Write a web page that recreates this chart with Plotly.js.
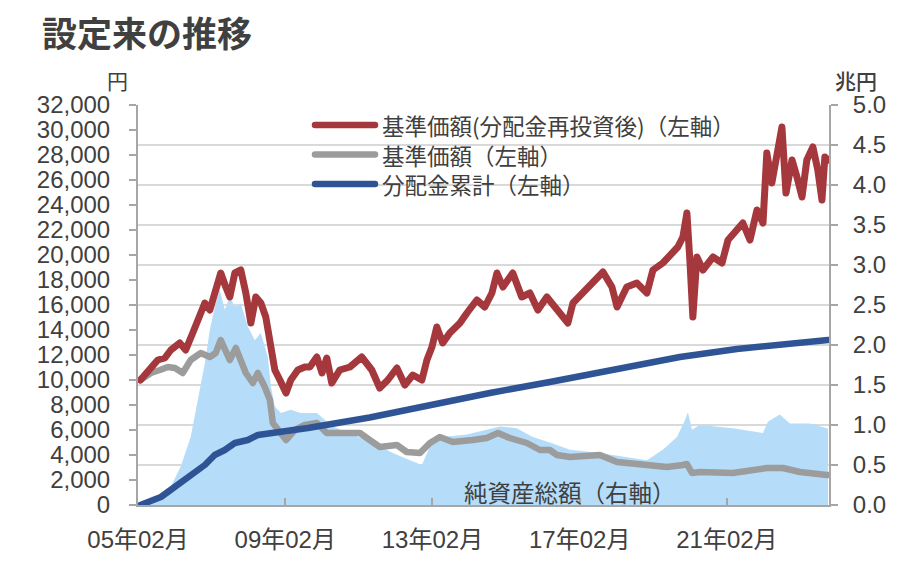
<!DOCTYPE html>
<html>
<head>
<meta charset="utf-8">
<script src="https://cdn.plot.ly/plotly-3.0.1.min.js"></script>
<style>
html,body{margin:0;padding:0;background:#fff;}
#chart{width:915px;height:570px;}
.js-line, .shapelayer path{stroke-linecap:round;stroke-linejoin:round;}
</style>
</head>
<body>
<div id="chart"></div>
<script>
// 基準価額(分配金再投資後) 円
const reinvDates = ["2005-02-25","2005-04-09","2005-08-16","2005-10-25","2005-12-24","2006-03-22","2006-05-20","2006-07-29","2006-10-07","2006-11-26","2007-01-15","2007-03-14","2007-05-03","2007-06-22","2007-08-01","2007-09-20","2007-11-18","2008-01-07","2008-02-26","2008-04-15","2008-06-04","2008-07-23","2008-09-12","2008-10-21","2008-12-10","2009-02-09","2009-03-28","2009-06-06","2009-08-14","2009-10-03","2009-12-12","2010-02-01","2010-03-20","2010-05-09","2010-07-27","2010-11-05","2011-03-02","2011-06-10","2011-08-28","2011-11-16","2012-02-14","2012-05-03","2012-07-21","2012-10-19","2012-12-08","2013-01-27","2013-03-16","2013-05-14","2013-07-23","2013-11-01","2014-01-09","2014-04-17","2014-07-05","2014-09-14","2014-11-03","2015-01-01","2015-04-09","2015-07-07","2015-09-26","2015-12-14","2016-03-12","2016-06-20","2016-08-19","2016-10-07","2016-11-26","2017-03-04","2017-06-12","2017-09-20","2017-12-18","2018-02-07","2018-05-14","2018-08-22","2018-11-30","2019-01-29","2019-05-07","2019-08-14","2019-10-03","2019-11-22","2020-01-01","2020-02-01","2020-02-29","2020-04-09","2020-06-08","2020-09-16","2020-12-14","2021-02-12","2021-04-21","2021-07-09","2021-09-18","2021-11-26","2022-01-25","2022-03-04","2022-04-23","2022-06-12","2022-08-01","2022-09-10","2022-11-09","2022-12-28","2023-02-16","2023-04-05","2023-06-04","2023-07-23","2023-09-02","2023-10-01","2023-11-01"];
const reinvValues = [10000,10400,11600,11760,12400,12960,12400,13760,15360,16160,15600,17440,18560,17440,16640,18560,18800,16960,14560,16640,16160,15040,12640,10800,10000,8960,10000,10800,11040,11040,11840,10560,11760,9760,10800,11040,11840,10800,9360,10000,10960,9600,10400,10000,11600,12640,14240,12960,13760,14560,15360,16400,15840,16960,18560,17440,18560,16640,16960,15600,16640,15600,15040,14560,16160,16960,17760,18640,17440,15840,17440,17760,16960,18800,19360,20160,20640,21440,23360,19360,15040,19840,18800,19840,19360,21200,21760,22560,21200,23600,22560,28160,25760,28400,30240,24960,27600,26240,24640,27600,28640,26800,24400,27840,27600];

// 基準価額 円
const navDates = ["2005-02-25","2005-06-08","2005-09-06","2005-11-24","2006-02-03","2006-04-21","2006-07-09","2006-10-17","2007-01-15","2007-03-14","2007-05-03","2007-06-22","2007-08-01","2007-09-30","2007-11-18","2008-01-07","2008-03-16","2008-05-05","2008-07-13","2008-09-02","2008-10-01","2008-11-20","2009-02-09","2009-05-07","2009-08-14","2009-12-12","2010-03-20","2010-08-26","2011-02-12","2011-05-20","2011-08-28","2012-02-14","2012-05-22","2012-09-30","2013-01-07","2013-04-15","2013-08-22","2014-03-08","2014-07-25","2014-11-13","2015-03-10","2015-08-26","2016-01-04","2016-04-11","2016-06-20","2016-10-27","2017-08-20","2018-02-07","2018-10-21","2019-06-16","2019-11-22","2020-01-01","2020-02-20","2020-05-09","2021-04-01","2022-03-04","2022-08-11","2023-01-27","2023-10-21","2023-11-01"];
const navValues = [10000,10560,10800,11040,10960,10560,11600,12160,11840,12160,13200,12160,11600,12560,11600,10560,9760,10560,9440,8400,6560,6000,5200,6000,6400,6560,5760,5760,5760,5200,4640,4800,4240,4160,4960,5440,5040,5200,5360,5760,5360,4960,4400,4400,4000,3840,4000,3440,3200,3040,3200,3280,2560,2640,2560,2960,2960,2640,2400,2400];

// 分配金累計 円
const distDates = ["2005-02-25","2005-07-17","2005-09-16","2005-11-24","2006-04-01","2006-08-19","2006-11-26","2007-03-04","2007-06-12","2007-09-20","2008-01-27","2008-05-05","2008-09-12","2009-02-28","2009-09-14","2011-05-20","2013-01-07","2014-08-24","2016-04-11","2018-03-06","2019-10-23","2021-05-11","2022-10-19","2023-11-01"];
const distValues = [0,400,640,1040,1760,2560,3200,4000,4400,4960,5200,5600,5760,5840,6160,7000,8000,8960,9840,10960,11840,12480,12960,13200];

// 純資産総額 兆円
const aumDates = ["2005-02-25","2005-08-16","2005-12-24","2006-04-01","2006-07-09","2006-09-18","2006-11-26","2007-01-15","2007-03-14","2007-04-23","2007-06-12","2007-08-01","2007-09-20","2007-11-18","2008-01-27","2008-04-05","2008-06-04","2008-08-12","2008-09-12","2008-10-21","2008-12-20","2009-03-28","2009-07-05","2009-12-12","2010-05-18","2011-04-21","2012-01-05","2012-06-22","2012-10-19","2013-01-07","2013-05-14","2014-01-09","2014-07-25","2014-12-02","2015-05-18","2015-10-25","2016-04-11","2016-10-27","2017-08-20","2018-11-30","2019-05-07","2019-09-24","2019-12-12","2020-01-11","2020-02-21","2020-05-09","2021-04-01","2022-01-25","2022-03-14","2022-07-11","2022-10-19","2023-05-05","2023-10-21","2023-11-01"];
const aumValues = [0.01,0.05,0.23,0.48,0.85,1.31,1.77,2.19,2.52,2.69,2.44,2.60,2.48,2.52,2.23,2.06,2.15,1.85,1.48,1.23,1.15,1.19,1.15,1.15,0.98,0.81,0.65,0.56,0.50,0.73,0.85,0.88,0.94,0.98,0.96,0.85,0.78,0.69,0.65,0.56,0.69,0.85,1.06,1.16,0.94,1.00,0.96,0.90,1.04,1.13,1.02,1.02,0.96,0.95];

// Axis ticks
const xTickVals = ["2005-02-01","2009-02-01","2013-02-01","2017-02-01","2021-02-01"];
const xTickText = ["05年02月","09年02月","13年02月","17年02月","21年02月"];

const labels = {
  title: "設定来の推移",
  reinv: "基準価額(分配金再投資後)（左軸）",
  nav: "基準価額（左軸）",
  dist: "分配金累計（左軸）",
  aum: "純資産総額（右軸）",
  yLeft: "円",
  yRight: "兆円"
};

const colors = {reinv: "#a5383c", nav: "#9c9c9c", dist: "#2f5496", aum: "#b5ddf9"};
const txt = "#404040";
const axisCol = "#a6a6a6";
const fontNum = "Liberation Sans, Arial, Noto Sans CJK JP, sans-serif";
const fontJP = "Noto Sans CJK JP, sans-serif";

const traces = [
  {x: aumDates, y: aumValues, type: "scatter", mode: "lines", fill: "tozeroy",
   fillcolor: colors.aum, line: {width: 0, color: colors.aum}, yaxis: "y", showlegend: false, name: labels.aum},
  {x: navDates, y: navValues, type: "scatter", mode: "lines", name: labels.nav,
   line: {color: colors.nav, width: 6.5}, yaxis: "y2", showlegend: false},
  {x: distDates, y: distValues, type: "scatter", mode: "lines", name: labels.dist,
   line: {color: colors.dist, width: 6.5}, yaxis: "y2", showlegend: false},
  {x: reinvDates, y: reinvValues, type: "scatter", mode: "lines", name: labels.reinv,
   line: {color: colors.reinv, width: 7}, yaxis: "y2", showlegend: false}
];

// legend (drawn as paper-positioned key)
const px = v => (v - 138) / 691;
const py = v => (505 - v) / 400;
const legendItems = [
  {key: "reinv", row: 125},
  {key: "nav", row: 154.5},
  {key: "dist", row: 184}
];
const shapes = legendItems.map(it => ({
  type: "line", xref: "paper", yref: "paper", x0: px(315), x1: px(375), y0: py(it.row), y1: py(it.row),
  line: {color: colors[it.key], width: 6.5}
}));
const legendAnn = legendItems.map(it => ({
  text: labels[it.key], xref: "paper", yref: "paper", x: px(381), y: py(it.row),
  xanchor: "left", yanchor: "middle", showarrow: false, borderpad: 0,
  font: {family: fontJP, size: 22.5, color: txt}
}));

const layout = {
  width: 915, height: 570,
  margin: {l: 138, r: 86, t: 105, b: 65, pad: 0},
  paper_bgcolor: "#ffffff", plot_bgcolor: "#ffffff",
  title: {text: labels.title, x: 42/915, xanchor: "left", xref: "container",
          y: 1 - 35/570, yanchor: "middle", yref: "container",
          font: {family: fontJP, size: 35, color: txt, weight: "bold"}},
  showlegend: false,
  xaxis: {type: "date", range: ["2005-02-01", "2023-11-11"], tickmode: "array",
          tickvals: xTickVals, ticktext: xTickText, ticks: "inside", ticklen: 7,
          tickcolor: axisCol, tickwidth: 2, showline: true, linecolor: axisCol, linewidth: 2,
          showgrid: false, zeroline: false, ticklabelstandoff: 12,
          tickfont: {family: fontNum, size: 24, color: txt}, fixedrange: true},
  yaxis: {range: [0, 5], dtick: 0.5, tick0: 0, tickformat: ".1f", side: "right",
          ticks: "outside", ticklen: 7, tickcolor: axisCol, tickwidth: 2,
          showline: true, linecolor: axisCol, linewidth: 2,
          showgrid: true, gridcolor: "#d9d9d9", gridwidth: 2, zeroline: false,
          ticklabelstandoff: 10,
          tickfont: {family: fontNum, size: 24, color: txt}, fixedrange: true},
  yaxis2: {range: [0, 32000], dtick: 2000, tick0: 0, tickformat: ",d", side: "left",
           overlaying: "y", ticks: "outside", ticklen: 7, tickcolor: axisCol, tickwidth: 2,
           showline: true, linecolor: axisCol, linewidth: 2, showgrid: false, zeroline: false,
           ticklabelstandoff: 14,
           tickfont: {family: fontNum, size: 24, color: txt}, fixedrange: true},
  shapes: shapes,
  annotations: [
    {text: labels.yLeft, xref: "paper", yref: "paper", x: px(117), y: py(80),
     xanchor: "center", yanchor: "middle", showarrow: false,
     font: {family: fontJP, size: 21, color: txt}},
    {text: labels.yRight, xref: "paper", yref: "paper", x: px(856), y: py(80),
     xanchor: "center", yanchor: "middle", showarrow: false,
     font: {family: fontJP, size: 21, color: txt, weight: 500}},
    {text: labels.aum, xref: "paper", yref: "paper", x: px(570), y: py(492),
     xanchor: "center", yanchor: "middle", showarrow: false,
     font: {family: fontJP, size: 23.5, color: txt}}
  ].concat(legendAnn),
  hovermode: false
};

Plotly.newPlot("chart", traces, layout, {staticPlot: true, displayModeBar: false});
</script>
</body>
</html>
